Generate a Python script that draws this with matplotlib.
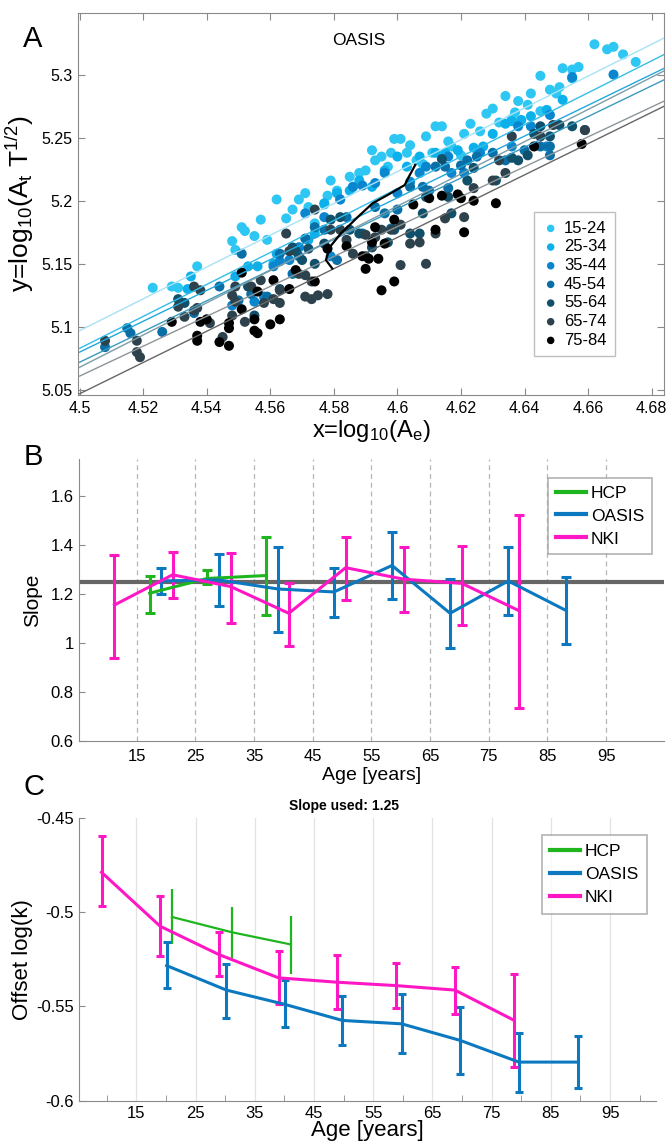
import numpy as np
import matplotlib
matplotlib.use("Agg")
import matplotlib.pyplot as plt
from matplotlib.lines import Line2D
from matplotlib.ticker import FuncFormatter

plt.rcParams['font.family'] = ['Liberation Sans', 'DejaVu Sans']
plt.rcParams['mathtext.fontset'] = 'custom'
plt.rcParams['mathtext.rm'] = 'Liberation Sans'
plt.rcParams['mathtext.it'] = 'Liberation Sans:italic'

# ---------------- panel A data (OASIS scatter) ----------------
age_groups = ["15-24", "25-34", "35-44", "45-54", "55-64", "65-74", "75-84"]
group_colors = ["#2ec6f2", "#0cb0ea", "#0a86cf", "#0a6fa6", "#10506a", "#2d424c", "#000000"]
fit_colors = ["#a6e3f7", "#35bde8", "#22a8dc", "#3a9ac0", "#7d9ca6", "#8d9599", "#666666"]

x_15_24 = [4.523, 4.529, 4.531, 4.537, 4.548, 4.549, 4.551, 4.552, 4.555, 4.557, 4.559, 4.562,
           4.565, 4.567, 4.569, 4.571, 4.574, 4.577, 4.579, 4.581, 4.582, 4.585, 4.588, 4.590,
           4.592, 4.595, 4.597, 4.599, 4.601, 4.603, 4.606, 4.609, 4.612, 4.614, 4.617, 4.621,
           4.623, 4.628, 4.630, 4.634, 4.638, 4.642, 4.645, 4.648, 4.650, 4.651, 4.652, 4.655,
           4.657, 4.662, 4.666, 4.668, 4.671, 4.675, 4.645, 4.636, 4.593, 4.598, 4.604, 4.608,
           4.611, 4.616, 4.620, 4.626, 4.632, 4.637, 4.641, 4.586, 4.578, 4.572]
y_15_24 = [5.131, 5.132, 5.131, 5.148, 5.168, 5.161, 5.179, 5.176, 5.172, 5.185, 5.169, 5.201,
           5.186, 5.193, 5.201, 5.206, 5.182, 5.197, 5.216, 5.208, 5.201, 5.219, 5.222, 5.224,
           5.240, 5.235, 5.227, 5.249, 5.249, 5.238, 5.232, 5.251, 5.259, 5.259, 5.243, 5.253,
           5.261, 5.269, 5.273, 5.283, 5.279, 5.285, 5.299, 5.288, 5.285, 5.290, 5.305, 5.304,
           5.306, 5.324, 5.320, 5.322, 5.316, 5.310, 5.271, 5.265, 5.232, 5.238, 5.244, 5.229,
           5.238, 5.247, 5.236, 5.255, 5.262, 5.270, 5.276, 5.211, 5.204, 5.195]

x_25_34 = [4.534, 4.535, 4.549, 4.553, 4.556, 4.561, 4.562, 4.569, 4.572, 4.574, 4.577, 4.581,
           4.585, 4.588, 4.592, 4.596, 4.600, 4.603, 4.607, 4.612, 4.615, 4.619, 4.624, 4.627,
           4.630, 4.634, 4.636, 4.639, 4.642, 4.647, 4.652, 4.655]
y_25_34 = [5.130, 5.140, 5.140, 5.148, 5.148, 5.150, 5.158, 5.163, 5.169, 5.174, 5.198, 5.206,
           5.208, 5.216, 5.211, 5.224, 5.235, 5.227, 5.235, 5.238, 5.238, 5.240, 5.242, 5.243,
           5.253, 5.261, 5.263, 5.264, 5.267, 5.272, 5.280, 5.297]

x_35_44 = [4.548, 4.555, 4.558, 4.561, 4.563, 4.566, 4.569, 4.571, 4.577, 4.579, 4.582, 4.586,
           4.589, 4.593, 4.596, 4.600, 4.604, 4.607, 4.609, 4.616, 4.617, 4.621, 4.626, 4.636,
           4.638, 4.642, 4.648, 4.668, 4.655, 4.647]
y_35_44 = [5.117, 5.120, 5.124, 5.148, 5.152, 5.153, 5.163, 5.190, 5.187, 5.156, 5.201, 5.211,
           5.212, 5.214, 5.222, 5.206, 5.215, 5.222, 5.227, 5.235, 5.222, 5.222, 5.238, 5.243,
           5.259, 5.259, 5.268, 5.300, 5.298, 5.243]

x_45_54 = [4.508, 4.515, 4.516, 4.526, 4.536, 4.544, 4.550, 4.551, 4.554, 4.559, 4.563, 4.567,
           4.569, 4.571, 4.574, 4.577, 4.581, 4.584, 4.589, 4.593, 4.596, 4.598, 4.600, 4.604,
           4.608, 4.610, 4.612, 4.615, 4.616, 4.620, 4.622, 4.625, 4.630, 4.634, 4.640, 4.645,
           4.648, 4.648]
y_45_54 = [5.084, 5.099, 5.095, 5.096, 5.111, 5.132, 5.121, 5.158, 5.126, 5.124, 5.158, 5.142,
           5.156, 5.170, 5.179, 5.177, 5.153, 5.187, 5.174, 5.195, 5.190, 5.178, 5.193, 5.211,
           5.211, 5.208, 5.227, 5.227, 5.210, 5.228, 5.232, 5.235, 5.238, 5.232, 5.240, 5.243,
           5.243, 5.236]

x_55_64 = [4.531, 4.533, 4.553, 4.555, 4.563, 4.567, 4.568, 4.570, 4.572, 4.574, 4.577, 4.579,
           4.582, 4.585, 4.588, 4.590, 4.592, 4.597, 4.599, 4.604, 4.607, 4.608, 4.609, 4.614,
           4.616, 4.617, 4.622, 4.624, 4.631, 4.636, 4.638, 4.641, 4.643, 4.645, 4.651, 4.655,
           4.659, 4.648]
y_55_64 = [5.122, 5.119, 5.132, 5.109, 5.130, 5.163, 5.160, 5.153, 5.162, 5.150, 5.166, 5.185,
           5.187, 5.177, 5.174, 5.156, 5.163, 5.167, 5.177, 5.174, 5.174, 5.190, 5.203, 5.233,
           5.203, 5.190, 5.216, 5.226, 5.216, 5.234, 5.232, 5.236, 5.253, 5.259, 5.260, 5.259,
           5.256, 5.251]

x_65_74 = [4.508, 4.518, 4.518, 4.519, 4.531, 4.533, 4.536, 4.537, 4.538, 4.536, 4.541, 4.545,
           4.548, 4.548, 4.549, 4.549, 4.552, 4.554, 4.557, 4.558, 4.561, 4.563, 4.563, 4.565,
           4.566, 4.569, 4.571, 4.574, 4.571, 4.573, 4.575, 4.578, 4.573, 4.579, 4.582, 4.584,
           4.586, 4.590, 4.593, 4.595, 4.598, 4.601, 4.601, 4.604, 4.607, 4.609, 4.612, 4.615,
           4.621, 4.624, 4.630, 4.634, 4.632, 4.636, 4.645, 4.649, 4.659]
y_65_74 = [5.089, 5.089, 5.080, 5.076, 5.116, 5.108, 5.113, 5.115, 5.129, 5.132, 5.103, 5.092,
           5.109, 5.125, 5.132, 5.120, 5.104, 5.132, 5.137, 5.119, 5.122, 5.119, 5.129, 5.174,
           5.160, 5.142, 5.141, 5.193, 5.124, 5.122, 5.125, 5.126, 5.136, 5.177, 5.177, 5.169,
           5.158, 5.173, 5.171, 5.177, 5.177, 5.181, 5.149, 5.166, 5.167, 5.150, 5.174, 5.186,
           5.187, 5.210, 5.216, 5.222, 5.232, 5.251, 5.251, 5.260, 5.256]

x_75_84 = [4.529, 4.538, 4.540, 4.537, 4.537, 4.544, 4.547, 4.547, 4.547, 4.551, 4.551, 4.555,
           4.556, 4.555, 4.556, 4.560, 4.563, 4.561, 4.566, 4.568, 4.574, 4.578, 4.584, 4.589,
           4.590, 4.591, 4.592, 4.593, 4.594, 4.596, 4.595, 4.599, 4.599, 4.605, 4.610, 4.612,
           4.614, 4.619, 4.620, 4.621, 4.624, 4.631, 4.643, 4.658]
y_75_84 = [5.104, 5.104, 5.106, 5.093, 5.089, 5.088, 5.085, 5.099, 5.103, 5.114, 5.143, 5.106,
           5.128, 5.097, 5.095, 5.102, 5.106, 5.137, 5.130, 5.145, 5.136, 5.162, 5.164, 5.156,
           5.146, 5.154, 5.167, 5.179, 5.154, 5.166, 5.129, 5.136, 5.185, 5.197, 5.202, 5.177,
           5.204, 5.205, 5.202, 5.175, 5.200, 5.198, 5.243, 5.245]

scatter_x = [x_15_24, x_25_34, x_35_44, x_45_54, x_55_64, x_65_74, x_75_84]
scatter_y = [y_15_24, y_25_34, y_35_44, y_45_54, y_55_64, y_65_74, y_75_84]

# per-group fitted lines: value at x=4.5 and slope
fit_intercept_45 = [5.097, 5.083, 5.080, 5.072, 5.068, 5.061, 5.047]
fit_slope = [1.261, 1.266, 1.223, 1.217, 1.277, 1.185, 1.239]

# mean trajectory (black curve)
traj_x = [4.5795, 4.5775, 4.5788, 4.5822, 4.5875, 4.5922, 4.5969, 4.6023, 4.6036, 4.6056]
traj_y = [5.1463, 5.1530, 5.1635, 5.1740, 5.1870, 5.1980, 5.2045, 5.2124, 5.2190, 5.2283]

# ---------------- panel B data (slopes) ----------------
hcp_b_age = [17.2, 27.0, 37.0]
hcp_b_val = [1.203, 1.263, 1.275]
hcp_b_lo = [1.121, 1.240, 1.114]
hcp_b_hi = [1.273, 1.298, 1.434]

oasis_b_age = [19.2, 29.0, 39.1, 48.6, 58.5, 68.4, 78.3, 88.2]
oasis_b_val = [1.253, 1.257, 1.220, 1.208, 1.316, 1.121, 1.253, 1.132]
oasis_b_lo = [1.199, 1.152, 1.046, 1.107, 1.178, 0.978, 1.112, 0.995]
oasis_b_hi = [1.307, 1.362, 1.393, 1.307, 1.452, 1.260, 1.392, 1.270]

nki_b_age = [11.2, 21.1, 31.0, 40.9, 50.6, 60.5, 70.4, 80.1]
nki_b_val = [1.155, 1.278, 1.230, 1.121, 1.307, 1.260, 1.243, 1.132]
nki_b_lo = [0.939, 1.182, 1.080, 0.988, 1.176, 1.125, 1.075, 0.733]
nki_b_hi = [1.358, 1.369, 1.366, 1.244, 1.431, 1.392, 1.396, 1.520]

slope_used = 1.25

# ---------------- panel C data (offsets) ----------------
hcp_c_age = [21.0, 31.1, 41.1]
hcp_c_val = [-0.5025, -0.5106, -0.5171]
hcp_c_lo = [-0.5171, -0.5247, -0.5327]
hcp_c_hi = [-0.4876, -0.4973, -0.5018]

oasis_c_age = [20.1, 30.2, 40.1, 49.8, 59.8, 69.7, 79.6, 89.6]
oasis_c_val = [-0.5283, -0.5413, -0.5489, -0.5574, -0.5592, -0.5680, -0.5795, -0.5795]
oasis_c_lo = [-0.5403, -0.5560, -0.5610, -0.5705, -0.5749, -0.5860, -0.5954, -0.5931]
oasis_c_hi = [-0.5159, -0.5274, -0.5357, -0.5445, -0.5436, -0.5504, -0.5640, -0.5657]

nki_c_age = [9.1, 19.0, 28.9, 39.0, 48.8, 58.8, 68.8, 78.7]
nki_c_val = [-0.4788, -0.5074, -0.5224, -0.5348, -0.5371, -0.5389, -0.5413, -0.5572]
nki_c_lo = [-0.4965, -0.5233, -0.5339, -0.5486, -0.5512, -0.5509, -0.5542, -0.5820]
nki_c_hi = [-0.4597, -0.4912, -0.5106, -0.5207, -0.5228, -0.5269, -0.5290, -0.5330]

dataset_names = ["HCP", "OASIS", "NKI"]
dataset_colors = ["#1fb51f", "#0b78c0", "#ff17c6"]
age_tick_labels = [15, 25, 35, 45, 55, 65, 75, 85, 95]

SPINE = "#8a8a8a"
fmt_g = FuncFormatter(lambda v, p: "%g" % round(v, 4))

fig = plt.figure(figsize=(6.67, 11.46), dpi=100)

# ======================= A =======================
axA = fig.add_axes([0.117, 0.6553, 0.879, 0.3336])
for gx, gy, c, lab in zip(scatter_x, scatter_y, group_colors, age_groups):
    axA.scatter(gx, gy, s=52, color=c, edgecolors="none", label=lab, zorder=2)
xx = np.array([4.5, 4.684])
for b0, m, c in zip(fit_intercept_45, fit_slope, fit_colors):
    axA.plot(xx, b0 + m * (xx - 4.5), color=c, lw=1.0, zorder=3)
axA.plot(traj_x, traj_y, color="black", lw=1.6, zorder=4)
axA.set_xlim(4.4995, 4.684)
axA.set_ylim(5.046, 5.349)
axA.set_xticks(np.round(np.arange(4.5, 4.681, 0.02), 2))
axA.set_yticks([5.05, 5.1, 5.15, 5.2, 5.25, 5.3])
axA.xaxis.set_major_formatter(fmt_g)
axA.yaxis.set_major_formatter(fmt_g)
axA.tick_params(direction="in", top=True, right=True, labelsize=11.5,
                length=5, color=SPINE, pad=4)
for s in axA.spines.values():
    s.set_color(SPINE)
axA.set_xlabel(r"x=log$_{10}$(A$_\mathrm{e}$)", fontsize=17, labelpad=2)
axA.set_ylabel(r"y=log$_{10}$(A$_\mathrm{t}$ T$^{1/2}$)", fontsize=19, labelpad=4)
axA.text(0.478, 0.928, "OASIS", transform=axA.transAxes, ha="center", va="center", fontsize=12.5)
legA = axA.legend(loc="lower right", bbox_to_anchor=(0.93, 0.08), fontsize=12,
                  frameon=True, fancybox=False, edgecolor="#b0b0b0", handletextpad=0.3,
                  labelspacing=0.22, borderpad=0.5, handlelength=1.0, markerscale=0.75)
legA.get_frame().set_linewidth(1.0)

# ======================= B =======================
axB = fig.add_axes([0.118, 0.3534, 0.877, 0.246])
for a in age_tick_labels:
    axB.axvline(a, color="#b5b5b5", lw=0.9, ls=(0, (4, 3)), zorder=0)
axB.axhline(slope_used, color="#666666", lw=3, zorder=1)
b_sets = [(hcp_b_age, hcp_b_val, hcp_b_lo, hcp_b_hi),
          (oasis_b_age, oasis_b_val, oasis_b_lo, oasis_b_hi),
          (nki_b_age, nki_b_val, nki_b_lo, nki_b_hi)]
for (ag, v, lo, hi), c in zip(b_sets, dataset_colors):
    v = np.array(v)
    axB.errorbar(ag, v, yerr=[v - np.array(lo), np.array(hi) - v], color=c, lw=2.2,
                 elinewidth=2.2, capsize=3.5, capthick=2.2, zorder=3)
axB.set_xlim(5.1, 104.8)
axB.set_ylim(0.6, 1.75)
axB.set_xticks(age_tick_labels)
axB.set_yticks([0.6, 0.8, 1.0, 1.2, 1.4, 1.6])
axB.yaxis.set_major_formatter(fmt_g)
axB.tick_params(axis="x", length=0, labelsize=12, pad=6)
axB.tick_params(axis="y", direction="in", length=4, color=SPINE, labelsize=12)
axB.spines["top"].set_visible(False)
axB.spines["right"].set_visible(False)
axB.spines["left"].set_color(SPINE)
axB.spines["bottom"].set_color(SPINE)
axB.set_xlabel("Age [years]", fontsize=14, labelpad=2)
axB.set_ylabel("Slope", fontsize=15, labelpad=6)
hB = [Line2D([], [], color=c, lw=3) for c in dataset_colors]
legB = axB.legend(hB, dataset_names, loc="upper right", bbox_to_anchor=(0.995, 0.965),
                  fontsize=12.5, fancybox=False, edgecolor="#a0a0a0", handlelength=1.7,
                  handletextpad=0.3, labelspacing=0.45, borderpad=0.45)
legB.get_frame().set_linewidth(1.2)

# ======================= C =======================
axC = fig.add_axes([0.118, 0.0395, 0.865, 0.2467])
for a in age_tick_labels:
    axC.axvline(a, color="#e3e3e3", lw=0.9, zorder=0)
c_sets = [(hcp_c_age, hcp_c_val, hcp_c_lo, hcp_c_hi),
          (oasis_c_age, oasis_c_val, oasis_c_lo, oasis_c_hi),
          (nki_c_age, nki_c_val, nki_c_lo, nki_c_hi)]
for i, ((ag, v, lo, hi), c) in enumerate(zip(c_sets, dataset_colors)):
    v = np.array(v)
    if i == 0:
        axC.errorbar(ag, v, yerr=[v - np.array(lo), np.array(hi) - v], color=c, lw=1.6,
                     elinewidth=1.6, capsize=0, zorder=3)
    else:
        axC.errorbar(ag, v, yerr=[v - np.array(lo), np.array(hi) - v], color=c, lw=2.2,
                     elinewidth=2.2, capsize=3.0, capthick=2.2, zorder=3)
axC.set_xlim(5.25, 102.7)
axC.set_ylim(-0.6, -0.45)
axC.set_xticks(age_tick_labels)
axC.set_xticks(np.arange(10, 101, 10), minor=True)
axC.set_yticks([-0.6, -0.55, -0.5, -0.45])
axC.yaxis.set_major_formatter(fmt_g)
axC.tick_params(axis="x", which="major", length=0, labelsize=12, pad=4)
axC.tick_params(axis="x", which="minor", direction="in", length=4, color=SPINE)
axC.tick_params(axis="y", direction="in", length=4, color=SPINE, labelsize=12)
axC.spines["top"].set_visible(False)
axC.spines["right"].set_visible(False)
axC.spines["left"].set_color(SPINE)
axC.spines["bottom"].set_color(SPINE)
axC.set_xlabel("Age [years]", fontsize=16, labelpad=-1)
axC.set_ylabel("Offset log(k)", fontsize=16, labelpad=2)
axC.set_title("Slope used: %g" % slope_used, fontsize=10, fontweight="bold", x=0.46, pad=6)
hC = [Line2D([], [], color=c, lw=3) for c in dataset_colors]
legC = axC.legend(hC, dataset_names, loc="upper right", bbox_to_anchor=(1.0, 0.97),
                  fontsize=12.5, fancybox=False, edgecolor="#a0a0a0", handlelength=1.7,
                  handletextpad=0.3, labelspacing=0.45, borderpad=0.5)
legC.get_frame().set_linewidth(1.2)

# panel letters
fig.text(0.035, 0.966, "A", fontsize=21, ha="left", va="center")
fig.text(0.035, 0.601, "B", fontsize=21, ha="left", va="center")
fig.text(0.035, 0.313, "C", fontsize=21, ha="left", va="center")

fig.savefig("out.png", dpi=100)
